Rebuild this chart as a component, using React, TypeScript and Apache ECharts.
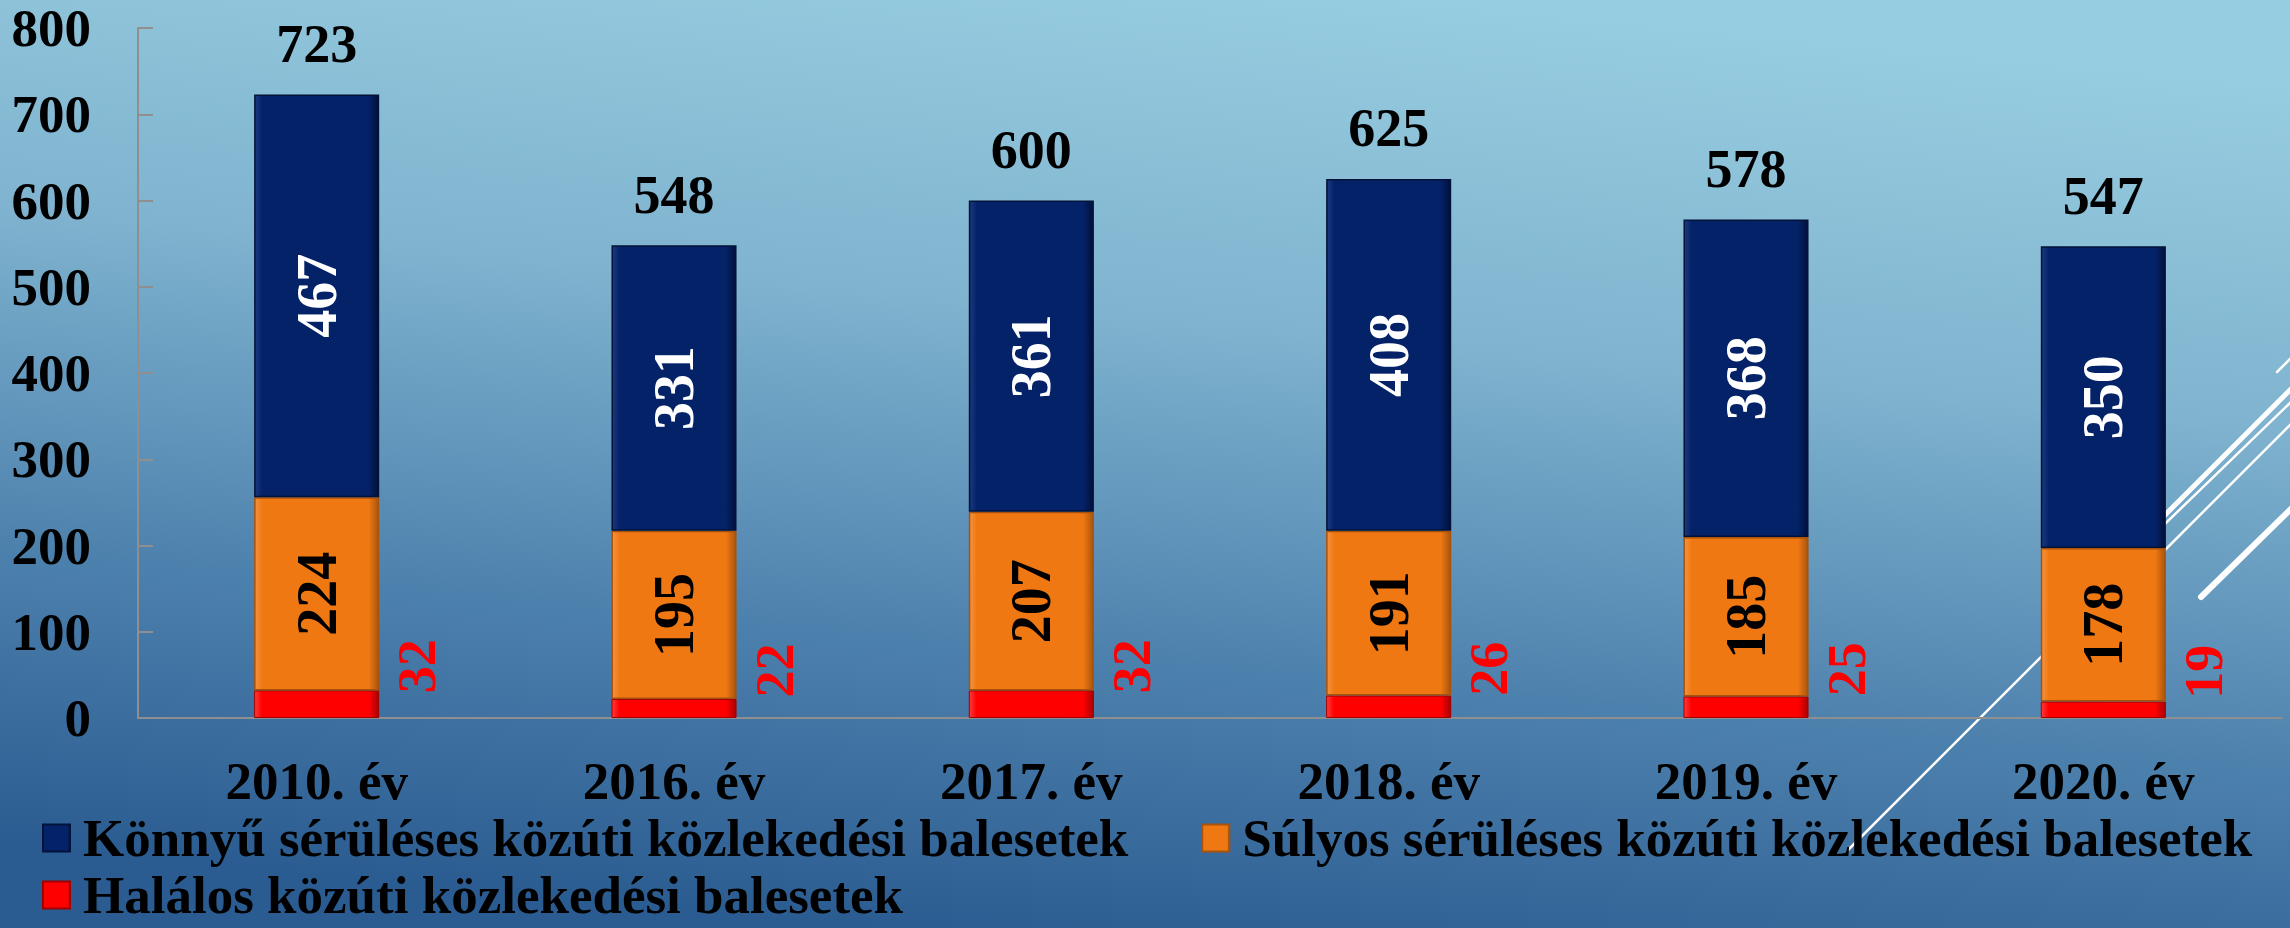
import React, { useEffect, useRef } from "react";
import * as echarts from "echarts";

const categories = ["2010. év", "2016. év", "2017. év", "2018. év", "2019. év", "2020. év"];
const lightInjury = [467, 331, 361, 408, 368, 350];
const seriousInjury = [224, 195, 207, 191, 185, 178];
const fatal = [32, 22, 32, 26, 25, 19];
const totals = [723, 548, 600, 625, 578, 547];
const seriesNames = [
  "Könnyű sérüléses közúti közlekedési balesetek",
  "Súlyos sérüléses közúti közlekedési balesetek",
  "Halálos közúti közlekedési balesetek",
];

const FONT = "'Liberation Serif', 'Times New Roman', serif";

const bevel = (edge: string, base: string, dark: string) => ({
  type: "linear",
  x: 0,
  y: 0,
  x2: 1,
  y2: 0,
  colorStops: [
    { offset: 0, color: edge },
    { offset: 0.06, color: base },
    { offset: 0.92, color: base },
    { offset: 1, color: dark },
  ],
});

export default function App() {
  const ref = useRef<HTMLDivElement>(null);
  useEffect(() => {
    if (!ref.current) return;
    const chart = echarts.init(ref.current, undefined, { renderer: "svg" });
    const white = "#ffffff";
    const deco = (x1: number, y1: number, x2: number, y2: number, w: number) => ({
      type: "line",
      z: 0,
      shape: { x1, y1, x2, y2 },
      style: { stroke: white, lineWidth: w, lineCap: "round" },
    });
    chart.setOption({
      animation: false,
      backgroundColor: {
        type: "linear",
        x: 0.62,
        y: 0,
        x2: 0.38,
        y2: 1,
        colorStops: [
          { offset: 0, color: "#97cde0" },
          { offset: 0.35, color: "#7fb3cf" },
          { offset: 0.7, color: "#4d81ad" },
          { offset: 1, color: "#2b5c91" },
        ],
      },
      textStyle: { fontFamily: FONT },
      graphic: [
        deco(1848, 850, 2080, 618, 2.5),
        deco(2140, 575, 2292, 423, 2.5),
        deco(2277, 372, 2295, 354, 2.5),
        deco(2140, 540, 2292, 388, 5),
        deco(2140, 548, 2292, 401, 2.5),
        deco(2201, 597, 2295, 505, 6),
      ],
      grid: { left: 138, right: 8, top: 28, bottom: 210, containLabel: false },
      legend: {
        left: 42,
        top: 811,
        width: 2248,
        padding: 0,
        itemGap: 3,
        itemWidth: 27,
        itemHeight: 27,
        icon: "rect",
        textStyle: {
          fontFamily: FONT,
          fontSize: 53,
          fontWeight: "bold",
          color: "#000",
          lineHeight: 54,
          padding: [0, 0, 0, 8],
        },
        data: [
          { name: seriesNames[0], textStyle: { padding: [0, 70, 0, 8] } },
          { name: seriesNames[1] },
          { name: seriesNames[2] },
        ],
      },
      xAxis: {
        type: "category",
        data: categories,
        axisLine: { show: true, lineStyle: { color: "#8f8f8f", width: 2 } },
        axisTick: { show: false },
        axisLabel: {
          color: "#000",
          fontFamily: FONT,
          fontSize: 53,
          fontWeight: "bold",
          lineHeight: 60,
          margin: 33,
        },
      },
      yAxis: {
        type: "value",
        min: 0,
        max: 800,
        interval: 100,
        splitLine: { show: false },
        axisLine: { show: true, lineStyle: { color: "#8f8f8f", width: 2 } },
        axisTick: { show: true, inside: true, length: 15, lineStyle: { color: "#8f8f8f", width: 2 } },
        axisLabel: {
          color: "#000",
          fontFamily: FONT,
          fontSize: 53,
          fontWeight: "bold",
          margin: 47,
        },
      },
      series: [
        {
          name: seriesNames[2],
          type: "bar",
          stack: "total",
          barWidth: "35%",
          data: fatal,
          itemStyle: {
            color: bevel("#ff3a3a", "#ff0000", "#a80000"),
            borderColor: "#a00000",
            borderWidth: 1,
          },
          label: {
            show: true,
            position: "right",
            distance: 0,
            rotate: 90,
            align: "center",
            verticalAlign: "middle",
            offset: [38, 38],
            color: "#ff0000",
            fontFamily: FONT,
            fontSize: 54,
            fontWeight: "bold",
          },
        },
        {
          name: seriesNames[1],
          type: "bar",
          stack: "total",
          barWidth: "35%",
          data: seriousInjury,
          itemStyle: {
            color: bevel("#f5933e", "#f07813", "#a9560d"),
            borderColor: "#a8520c",
            borderWidth: 1.5,
          },
          label: {
            show: true,
            position: "inside",
            rotate: 90,
            color: "#000",
            fontFamily: FONT,
            fontSize: 56,
            fontWeight: "bold",
          },
        },
        {
          name: seriesNames[0],
          type: "bar",
          stack: "total",
          barWidth: "35%",
          data: lightInjury,
          itemStyle: {
            color: bevel("#1b3a80", "#042268", "#01103a"),
            borderColor: "#021238",
            borderWidth: 1.5,
          },
          label: {
            show: true,
            position: "inside",
            rotate: 90,
            color: "#fff",
            fontFamily: FONT,
            fontSize: 56,
            fontWeight: "bold",
          },
        },
        {
          name: "Összesen",
          type: "scatter",
          data: totals,
          symbolSize: 1,
          itemStyle: { color: "rgba(0,0,0,0)" },
          emphasis: { disabled: true },
          label: {
            show: true,
            position: "top",
            distance: 20,
            color: "#000000",
            opacity: 1,
            textBorderWidth: 0,
            fontFamily: FONT,
            fontSize: 54,
            fontWeight: "bold",
            lineHeight: 60,
          },
          z: 5,
        },
      ],
    });
    return () => chart.dispose();
  }, []);
  return (
    <div
      ref={ref}
      style={{ position: "absolute", left: 0, top: 0, width: 2290, height: 928 }}
    />
  );
}
